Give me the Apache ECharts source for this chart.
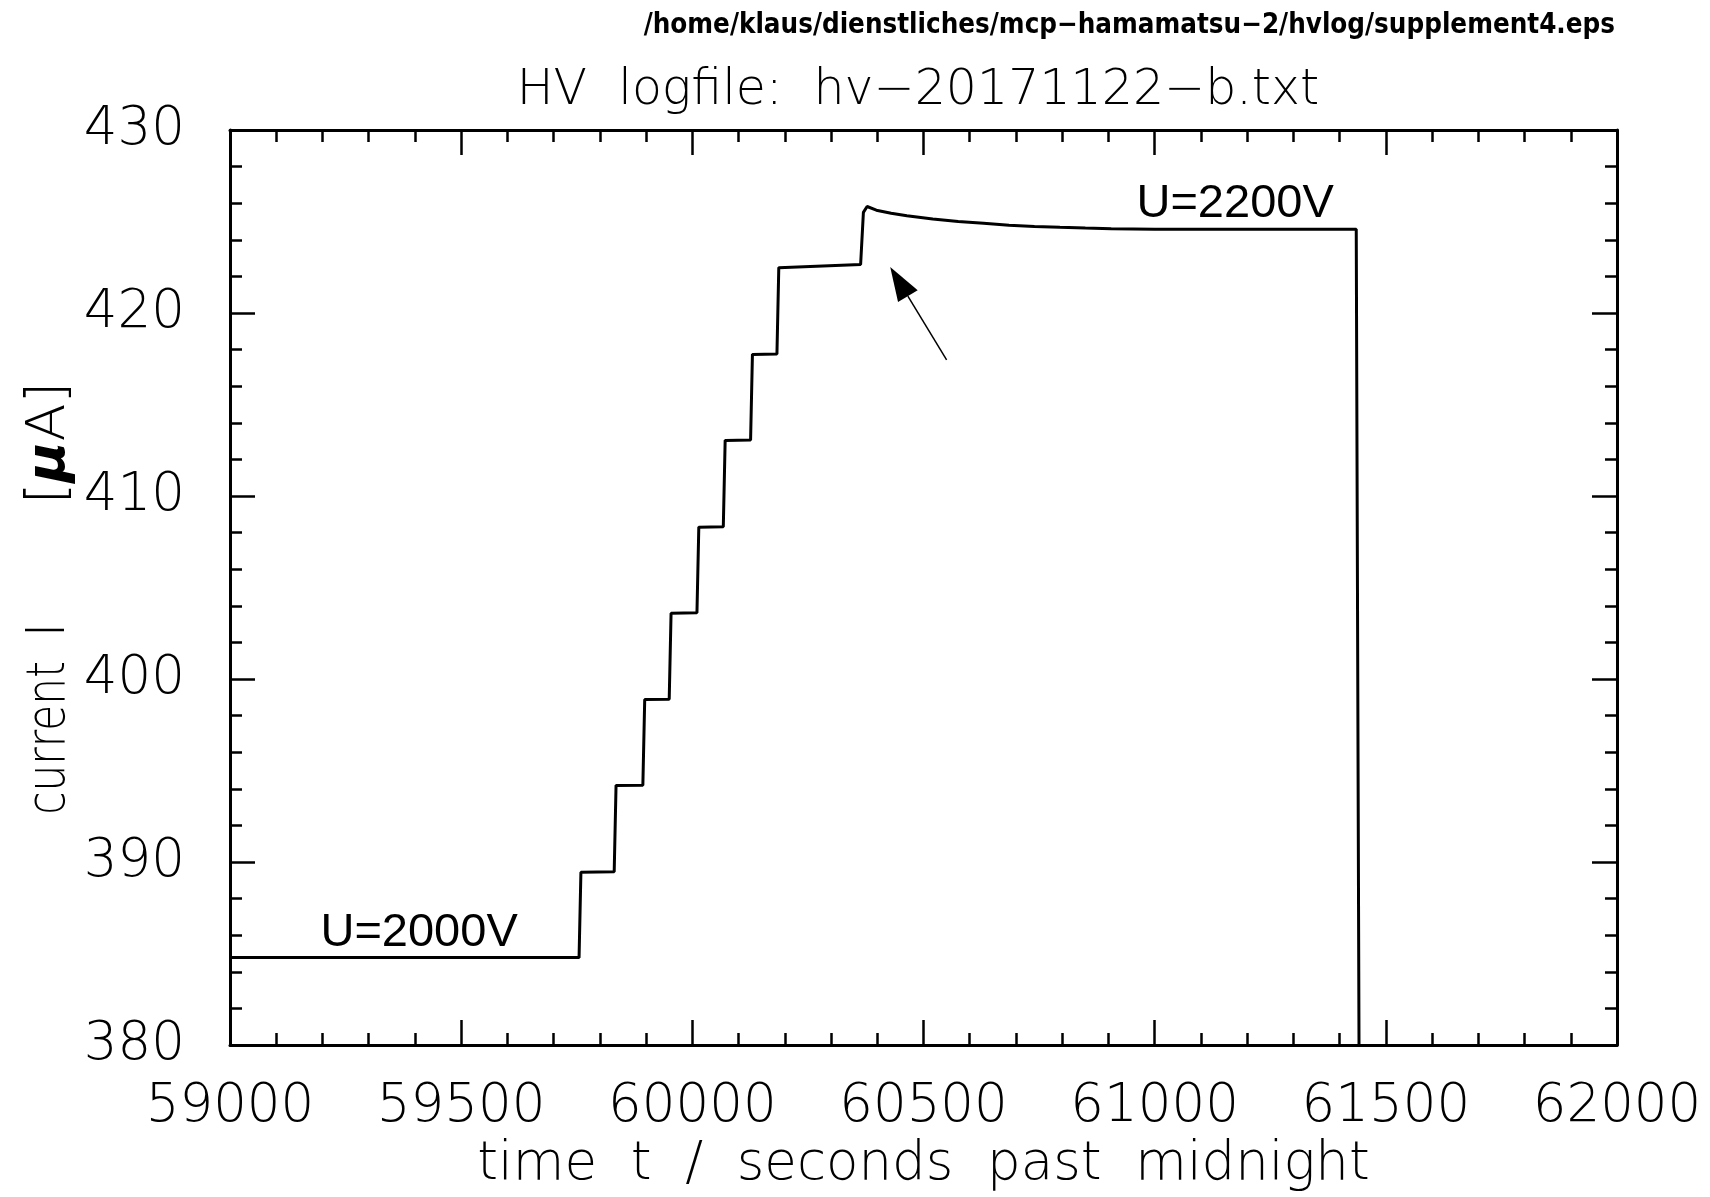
<!DOCTYPE html>
<html><head><meta charset="utf-8">
<script src="https://cdn.jsdelivr.net/npm/echarts@6/dist/echarts.min.js"></script>
<style>html,body{margin:0;padding:0;background:#fff}#c{width:1710px;height:1197px}</style>
</head><body><div id="c"></div>
<script>
// time t (seconds past midnight)
const times = [59000, 59755, 59759, 59831, 59835, 59893, 59897, 59950, 59954, 60010, 60014,
  60067, 60071, 60126, 60130, 60183, 60187, 60364, 60370, 60378, 60398, 60430, 60464, 60520,
  60575, 60630, 60685, 60740, 60795, 60850, 60906, 61000, 61200, 61436, 61442];
// current I (µA)
const currents = [384.78, 384.78, 389.44, 389.47, 394.19, 394.2, 398.88, 398.9, 403.6, 403.62, 408.3,
  408.32, 413.04, 413.06, 417.74, 417.76, 422.48, 422.65, 425.5, 425.82, 425.62, 425.45, 425.31, 425.14,
  425.0, 424.9, 424.8, 424.73, 424.68, 424.64, 424.6, 424.58, 424.58, 424.58, 380];
const xRange = [59000, 62000];
const xStep = 500;
const yRange = [380, 430];
const yStep = 10;
const annotations = [
  {text: 'U=2000V', at: [59409, 386.1]},
  {text: 'U=2200V', at: [61174, 425.95]}
];
const arrowTail = [60550, 417.44];
const arrowTip = [60428, 422.51];
const pathText = '/home/klaus/dienstliches/mcp\u2212hamamatsu\u22122/hvlog/supplement4.eps';
const titleText = 'HV  logfile:  hv\u221220171122\u2212b.txt';
const xName = 'time  t  /  seconds  past  midnight';
const yNameParts = ['current', 'I', '[{mu|\u03bc}A]'];

const HFONT = 'DejaVu Sans';
const chart = echarts.init(document.getElementById('c'), null, {renderer: 'canvas'});

const axisCommon = {
  axisLine: {show: true, onZero: false, lineStyle: {color: '#000', width: 3}},
  axisTick: {show: true, inside: true, length: 25, lineStyle: {color: '#000', width: 2.5}},
  minorTick: {show: true, splitNumber: 5, length: 12, lineStyle: {color: '#000', width: 2.5}},
  splitLine: {show: false},
  minorSplitLine: {show: false}
};
const tickLabel = {color: '#000', fontFamily: HFONT, fontWeight: 200, fontSize: 53, formatter: v => String(v)};

chart.setOption({
  animation: false,
  backgroundColor: '#fff',
  title: [
    {text: pathText, right: 90, top: 7,
     textStyle: {fontFamily: 'DejaVu Sans Condensed', fontWeight: 'bold', fontSize: 27.5, color: '#000'}},
    {text: titleText, left: 913, textAlign: 'center', top: 62,
     textStyle: {fontFamily: HFONT, fontWeight: 200, fontSize: 49, color: '#000'}}
  ],
  grid: {left: 230, top: 130, width: 1387, height: 925, containLabel: false},
  xAxis: [
    Object.assign({type: 'value', min: xRange[0], max: xRange[1], interval: xStep, position: 'bottom',
      axisLabel: Object.assign({margin: 36}, tickLabel),
      name: xName, nameLocation: 'middle', nameGap: 84,
      nameTextStyle: {color: '#000', fontFamily: HFONT, fontWeight: 200, fontSize: 53}}, axisCommon),
    Object.assign({type: 'value', min: xRange[0], max: xRange[1], interval: xStep, position: 'top',
      axisLabel: {show: false}}, axisCommon)
  ],
  yAxis: [
    Object.assign({type: 'value', min: yRange[0], max: yRange[1], interval: yStep, position: 'left',
      axisLabel: Object.assign({margin: 45, padding: [10, 0, 0, 0]}, tickLabel)}, axisCommon),
    Object.assign({type: 'value', min: yRange[0], max: yRange[1], interval: yStep, position: 'right',
      axisLabel: {show: false}}, axisCommon)
  ],
  series: [{
    type: 'line', xAxisIndex: 0, yAxisIndex: 0,
    data: times.map((t, i) => [t, currents[i]]),
    showSymbol: false, symbol: 'none', clip: true,
    lineStyle: {color: '#000', width: 3}
  }]
});

function px(p) { return chart.convertToPixel({xAxisIndex: 0, yAxisIndex: 0}, p); }
const tail = px(arrowTail), tip = px(arrowTip);
const dx = tip[0] - tail[0], dy = tip[1] - tail[1];
const len = Math.hypot(dx, dy), ux = dx / len, uy = dy / len;
const headL = 34, headW = 11.5;
const bx = tip[0] - ux * headL, by = tip[1] - uy * headL;
const graphics = [
  {type: 'line', shape: {x1: tail[0], y1: tail[1], x2: bx, y2: by}, style: {stroke: '#000', lineWidth: 1.5}},
  {type: 'polygon', shape: {points: [tip, [bx - uy * headW, by + ux * headW], [bx + uy * headW, by - ux * headW]]},
   style: {fill: '#000'}}
];
annotations.forEach(a => {
  const p = px(a.at);
  graphics.push({type: 'text', x: p[0], y: p[1],
    style: {text: a.text, fill: '#000', font: '47px "Liberation Sans", Arial, sans-serif', textAlign: 'center', textVerticalAlign: 'middle'}});
});
// y axis title (rotated, condensed like the original stroke font)
const yTitleStyle = {fill: '#000', fontFamily: HFONT, fontWeight: 200, fontSize: 53,
  textAlign: 'center', textVerticalAlign: 'middle',
  rich: {mu: {fontFamily: HFONT, fontWeight: 'bold', fontStyle: 'italic', fontSize: 53, fill: '#000'}}};
const yTitlePos = [[50, 738, 0.8], [50, 630, 1], [50, 443, 1.05]];
yNameParts.forEach((t, i) => {
  graphics.push({type: 'text', x: yTitlePos[i][0], y: yTitlePos[i][1], rotation: Math.PI / 2,
    scaleX: yTitlePos[i][2], scaleY: 1,
    style: Object.assign({text: t}, yTitleStyle)});
});
chart.setOption({graphic: graphics});
</script>
</body></html>
